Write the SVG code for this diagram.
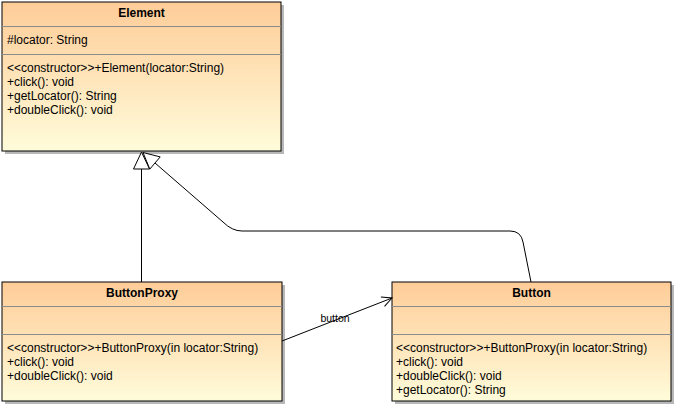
<svg xmlns="http://www.w3.org/2000/svg" width="676" height="407" viewBox="0 0 676 407">
<style>
.box{fill:url(#g);stroke:#000;stroke-width:1}
.shadow{fill:#b8b8b8}
.div{stroke:#8c8c8c;stroke-width:1}
text{font-family:"Liberation Sans",Arial,sans-serif;font-size:12px;fill:#000}
.t{font-weight:bold;text-anchor:middle}
.lbl{font-size:10.5px;text-anchor:middle}
.line{fill:none;stroke:#000;stroke-width:1}
.tri{fill:#fff;stroke:#000;stroke-width:1}
</style>
<defs>
<linearGradient id="g" x1="0" y1="0" x2="0" y2="1">
<stop offset="0" stop-color="#fecc98"/>
<stop offset="1" stop-color="#fffcda"/>
</linearGradient>
<marker id="open" markerWidth="14" markerHeight="14" refX="11" refY="6" orient="auto" markerUnits="userSpaceOnUse">
<path d="M1,1 L11,6 L1,11" fill="none" stroke="#000" stroke-width="1"/>
</marker>
</defs>
<g id="Element">
<rect class="shadow" x="5" y="5" width="279" height="149"/>
<rect class="box" x="2" y="2" width="279" height="149"/>
<line class="div" x1="2" y1="26.5" x2="281" y2="26.5"/>
<line class="div" x1="2" y1="54.5" x2="281" y2="54.5"/>
<text class="t" x="141.5" y="17">Element</text>
<text x="7" y="44">#locator: String</text>
<text x="7" y="72">&lt;&lt;constructor&gt;&gt;+Element(locator:String)</text>
<text x="7" y="86">+click(): void</text>
<text x="7" y="100">+getLocator(): String</text>
<text x="7" y="114">+doubleClick(): void</text>
</g>
<g id="ButtonProxy">
<rect class="shadow" x="5" y="285" width="280" height="119"/>
<rect class="box" x="2" y="282" width="280" height="119"/>
<line class="div" x1="2" y1="306.5" x2="282" y2="306.5"/>
<line class="div" x1="2" y1="334.5" x2="282" y2="334.5"/>
<text class="t" x="142" y="297">ButtonProxy</text>
<text x="7" y="352">&lt;&lt;constructor&gt;&gt;+ButtonProxy(in locator:String)</text>
<text x="7" y="366">+click(): void</text>
<text x="7" y="380">+doubleClick(): void</text>
</g>
<g id="Button">
<rect class="shadow" x="395" y="285" width="279" height="119"/>
<rect class="box" x="392" y="282" width="279" height="119"/>
<line class="div" x1="392" y1="306.5" x2="671" y2="306.5"/>
<line class="div" x1="392" y1="334.5" x2="671" y2="334.5"/>
<text class="t" x="531.5" y="297">Button</text>
<text x="396" y="352">&lt;&lt;constructor&gt;&gt;+ButtonProxy(in locator:String)</text>
<text x="396" y="366">+click(): void</text>
<text x="396" y="380">+doubleClick(): void</text>
<text x="396" y="394">+getLocator(): String</text>
</g>
<g id="connectors">
<line class="line" x1="141.5" y1="282" x2="141.5" y2="169"/>
<polygon class="tri" points="141.5,152 133.5,169 149.5,169"/>
<path class="line" d="M531,282 L523,242 Q521,231 510,231 L242,231 Q232,231 223,222 L155,163"/>
<polygon class="tri" points="143,152.5 160.2,156.9 149.8,169.1"/>
<line class="line" x1="282" y1="341" x2="392" y2="298" marker-end="url(#open)"/>
<text class="lbl" x="335" y="322">button</text>
</g>
</svg>
